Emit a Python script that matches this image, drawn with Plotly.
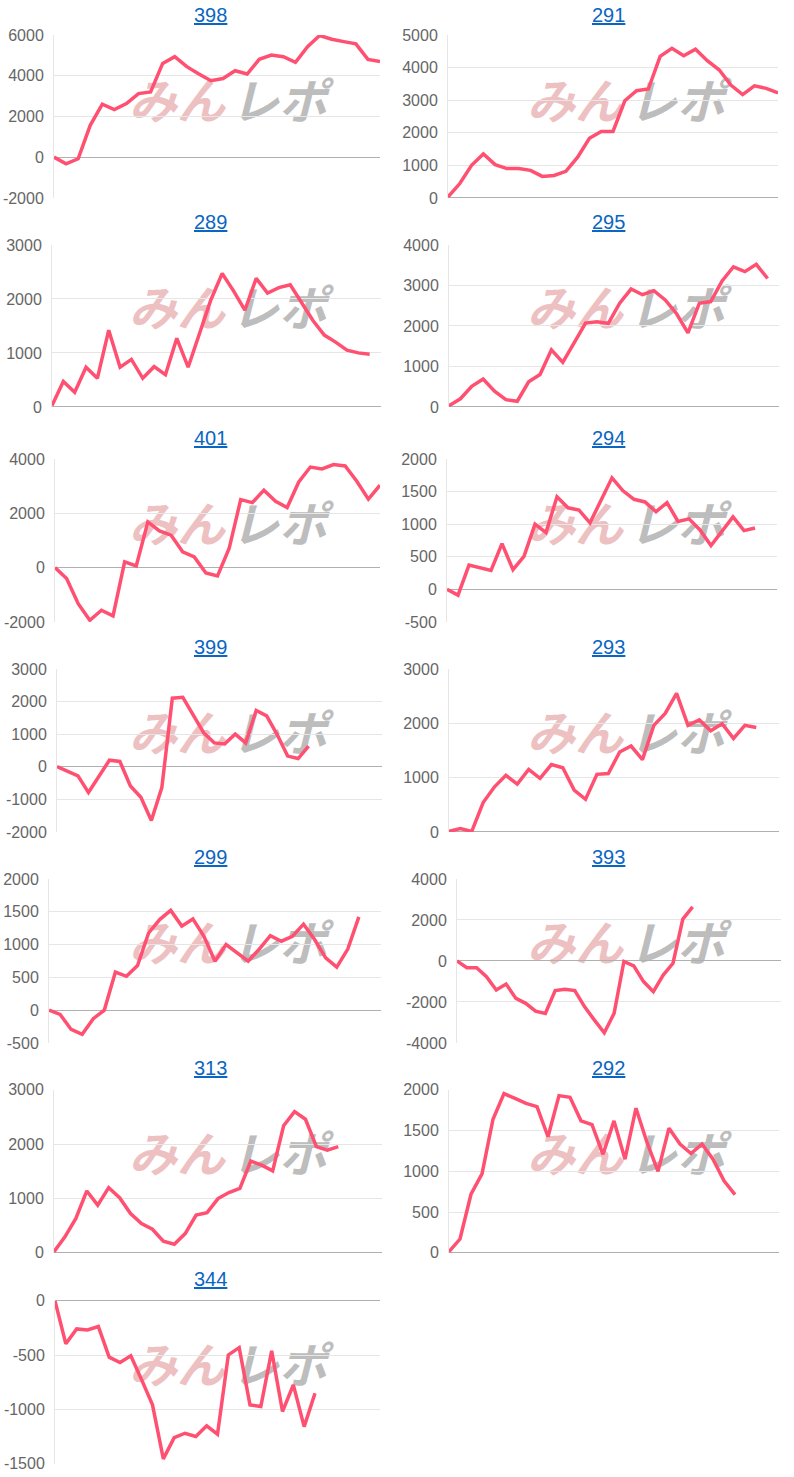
import plotly.graph_objects as go

W, H = 794, 1477

# ---------------- data ----------------
titles = ["398", "291", "289", "295", "401", "294", "399", "293", "299", "393", "313", "292", "344"]

s398 = [0, -330, -80, 1560, 2600, 2330, 2630, 3120, 3200, 4600, 4930, 4440, 4080, 3750, 3860, 4240,
        4080, 4800, 5010, 4930, 4650, 5420, 5970, 5790, 5670, 5560, 4800, 4690]
s291 = [30, 440, 1000, 1350, 1020, 900, 900, 845, 660, 690, 815, 1250, 1830, 2040, 2040, 2980, 3290,
        3340, 4340, 4590, 4360, 4560, 4210, 3930, 3460, 3170, 3440, 3360, 3220]
s289 = [25, 470, 270, 735, 530, 1420, 735, 880, 530, 745, 595, 1270, 735, 1350, 1980, 2470, 2150,
        1790, 2380, 2110, 2210, 2260, 1940, 1600, 1330, 1200, 1050, 1000, 975]
s295 = [30, 200, 510, 690, 390, 180, 140, 620, 800, 1410, 1100, 1600, 2070, 2100, 2060, 2560, 2910,
        2770, 2870, 2640, 2300, 1830, 2560, 2600, 3110, 3460, 3340, 3520, 3170]
s401 = [0, -400, -1330, -1940, -1570, -1780, 210, 60, 1680, 1350, 1190, 580, 390, -200, -310, 700,
        2500, 2390, 2850, 2440, 2210, 3150, 3700, 3630, 3790, 3740, 3180, 2520, 3030]
s294 = [0, -90, 370, 330, 290, 700, 300, 505, 1000, 870, 1420, 1250, 1215, 1020, 1360, 1710, 1510,
        1380, 1340, 1190, 1330, 1040, 1080, 910, 670, 900, 1110, 900, 940]
s399 = [0, -130, -280, -790, -280, 200, 160, -590, -940, -1650, -640, 2100, 2130, 1590, 1035, 730,
        700, 1000, 730, 1725, 1560, 985, 325, 250, 630]
s293 = [10, 60, 10, 540, 830, 1040, 880, 1150, 985, 1240, 1180, 770, 600, 1060, 1075, 1470, 1580,
        1330, 1960, 2180, 2550, 1960, 2060, 1860, 1990, 1720, 1960, 1920]
s299 = [0, -65, -295, -370, -130, 0, 580, 515, 680, 1175, 1380, 1520, 1280, 1390, 1125, 745, 1000,
        870, 745, 930, 1135, 1050, 1125, 1310, 1075, 795, 655, 930, 1420]
s393 = [0, -330, -330, -770, -1420, -1130, -1830, -2070, -2450, -2560, -1450, -1390, -1450, -2240,
        -2890, -3510, -2560, -30, -245, -1010, -1500, -690, -115, 2040, 2630]
s313 = [20, 295, 635, 1140, 880, 1200, 1015, 725, 540, 435, 215, 160, 355, 695, 740, 1000, 1110,
        1185, 1690, 1615, 1510, 2340, 2600, 2460, 1955, 1890, 1955]
s292 = [15, 170, 720, 970, 1640, 1955, 1895, 1835, 1795, 1425, 1930, 1910, 1620, 1575, 1210, 1620,
        1150, 1775, 1355, 1000, 1530, 1335, 1220, 1335, 1150, 885, 715]
s344 = [0, -395, -258, -267, -236, -518, -567, -506, -727, -957, -1454, -1258, -1218, -1248, -1150,
        -1227, -497, -430, -957, -972, -460, -1018, -773, -1157, -850]

series = [s398, s291, s289, s295, s401, s294, s399, s293, s299, s393, s313, s292, s344]

# number of day slots on each chart's horizontal axis
days = [28, 29, 30, 30, 29, 31, 32, 30, 31, 34, 31, 31, 31]

# y-axis ranges and tick steps
y_min = [-2000, 0, 0, 0, -2000, -500, -2000, 0, -500, -4000, 0, 0, -1500]
y_max = [6000, 5000, 3000, 4000, 4000, 2000, 3000, 3000, 2000, 4000, 3000, 2000, 0]
y_step = [2000, 1000, 1000, 1000, 2000, 500, 1000, 1000, 500, 2000, 1000, 500, 500]

# ---------------- layout geometry (target pixels) ----------------
left_px = [54, 448, 52, 449, 55, 447, 57, 449, 49, 457, 54, 449, 55]
right_px = [380, 778, 381, 779, 380, 777, 382, 779, 381, 781, 382, 779, 380]
row_top = [35, 245, 459, 669, 879, 1090, 1301]
row_bot = [198, 407, 622, 832, 1043, 1253, 1464]
title_y = [15, 222, 438, 647, 857, 1068, 1279]
title_x = [210, 608]
wm_dx = [0, 398]


def fy(Y):
    """map a target vertical pixel position to figure pixels (capture offset/scale compensation)"""
    return (Y - 8.1) / 0.9885


LINE = "#ff5071"
fig = go.Figure()
layout = dict(width=W, height=H, margin=dict(l=0, r=0, t=0, b=0),
              paper_bgcolor="white", plot_bgcolor="rgba(0,0,0,0)", showlegend=False)

# page-level axes (subplot 1) used for the watermark so it sits underneath the charts
layout["xaxis"] = dict(domain=[0, 1], range=[0, W], visible=False, fixedrange=True)
layout["yaxis"] = dict(domain=[0, 1], range=[H, 0], visible=False, fixedrange=True)
wm_x1, wm_y1, wm_x2, wm_y2 = [], [], [], []
for i in range(len(titles)):
    r, c = divmod(i, 2)
    wm_x1.append(177 + wm_dx[c]); wm_y1.append(fy(title_y[r] + 92))
    wm_x2.append(279 + wm_dx[c]); wm_y2.append(fy(title_y[r] + 92))
fig.add_trace(go.Scatter(x=wm_x1, y=wm_y1, mode="text", text=["みん"] * len(wm_x1), xaxis="x", yaxis="y",
                         textfont=dict(family="Noto Sans CJK JP", size=48, color="#edc0c1",
                                       weight="bold", style="italic"), hoverinfo="skip"))
fig.add_trace(go.Scatter(x=wm_x2, y=wm_y2, mode="text", text=["レポ"] * len(wm_x2), xaxis="x", yaxis="y",
                         textfont=dict(family="Noto Sans CJK JP", size=48, color="#bdbdbd",
                                       weight="bold", style="italic"), hoverinfo="skip"))

annotations = []
for i, (name, vals) in enumerate(zip(titles, series)):
    r, c = divmod(i, 2)
    k = i + 2
    xa, ya = f"xaxis{k}", f"yaxis{k}"
    tv = list(range(y_min[i], y_max[i] + 1, y_step[i]))
    layout[xa] = dict(domain=[left_px[i] / W, right_px[i] / W], range=[0, days[i] - 1],
                      showgrid=False, zeroline=False, showticklabels=False, ticks="",
                      showline=False, anchor=f"y{k}", fixedrange=True)
    layout[ya] = dict(domain=[1 - fy(row_bot[r]) / H, 1 - fy(row_top[r]) / H],
                      range=[y_min[i], y_max[i]],
                      tickvals=tv, ticktext=[str(v) for v in tv], ticks="", ticklabelstandoff=6,
                      showgrid=True, gridcolor="#e6e6e6", gridwidth=1,
                      zeroline=True, zerolinecolor="#b0b0b0", zerolinewidth=1,
                      showline=True, linecolor="#e6e6e6", linewidth=1,
                      tickfont=dict(family="Liberation Sans, Arial", size=16, color="#666666"),
                      anchor=f"x{k}", fixedrange=True)
    fig.add_trace(go.Scatter(x=list(range(len(vals))), y=vals, mode="lines",
                             line=dict(color=LINE, width=3.5), xaxis=f"x{k}", yaxis=f"y{k}",
                             hoverinfo="skip"))
    annotations.append(dict(text=f"<u>{name}</u>", xref="paper", yref="paper",
                            x=title_x[c] / W, y=1 - fy(title_y[r]) / H, xanchor="center",
                            yanchor="middle", showarrow=False,
                            font=dict(family="Liberation Sans, Arial", size=20, color="#0a66c2")))

layout["annotations"] = annotations
fig.update_layout(**layout)
page_fix = (
    "document.documentElement.style.margin='0';document.body.style.margin='0';"
    "document.body.style.padding='0';"
)
fig.write_html("out.html", config={"displayModeBar": False}, post_script=page_fix)
